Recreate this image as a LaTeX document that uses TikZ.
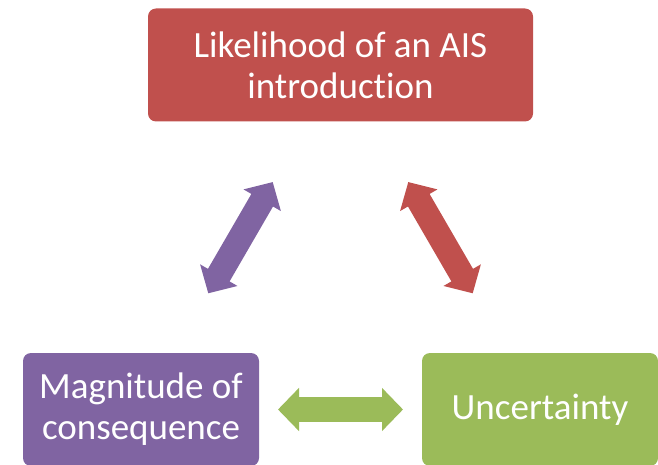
\documentclass[tikz,border=0pt]{standalone}
\usepackage{fontspec}
\setmainfont[Ligatures=NoCommon]{Carlito}
\usetikzlibrary{arrows.meta}
\definecolor{boxred}{HTML}{C0504D}
\definecolor{boxpurple}{HTML}{8064A2}
\definecolor{boxgreen}{HTML}{9BBB59}
\begin{document}
\begin{tikzpicture}[
    x=1pt, y=-1pt,
    bx/.style={rounded corners=8pt, text=white, align=center, outer sep=0pt,
      font=\fontsize{37}{41}\selectfont, minimum height=113pt},
    dbl/.style={line width=25pt, {Triangle[length=21pt,width=42pt]}-{Triangle[length=21pt,width=42pt]}},
  ]
  \useasboundingbox (0,0) rectangle (658,465);
  \node[bx, fill=boxred, minimum width=385pt] (lik) at (340.5,65) {Likelihood of an AIS\\introduction};
  \node[bx, fill=boxpurple, minimum width=236pt] (mag) at (141,409.5) {Magnitude of\\consequence};
  \node[bx, fill=boxgreen, minimum width=236pt] (unc) at (540,409.5) {Uncertainty};
  \draw[dbl, boxpurple, shorten <=69pt, shorten >=70pt] (mag) -- (lik);
  \draw[dbl, boxred, shorten <=70pt, shorten >=69pt] (lik) -- (unc);
  \draw[dbl, boxgreen, shorten <=19pt, shorten >=19pt] (mag) -- (unc);
\end{tikzpicture}
\end{document}
